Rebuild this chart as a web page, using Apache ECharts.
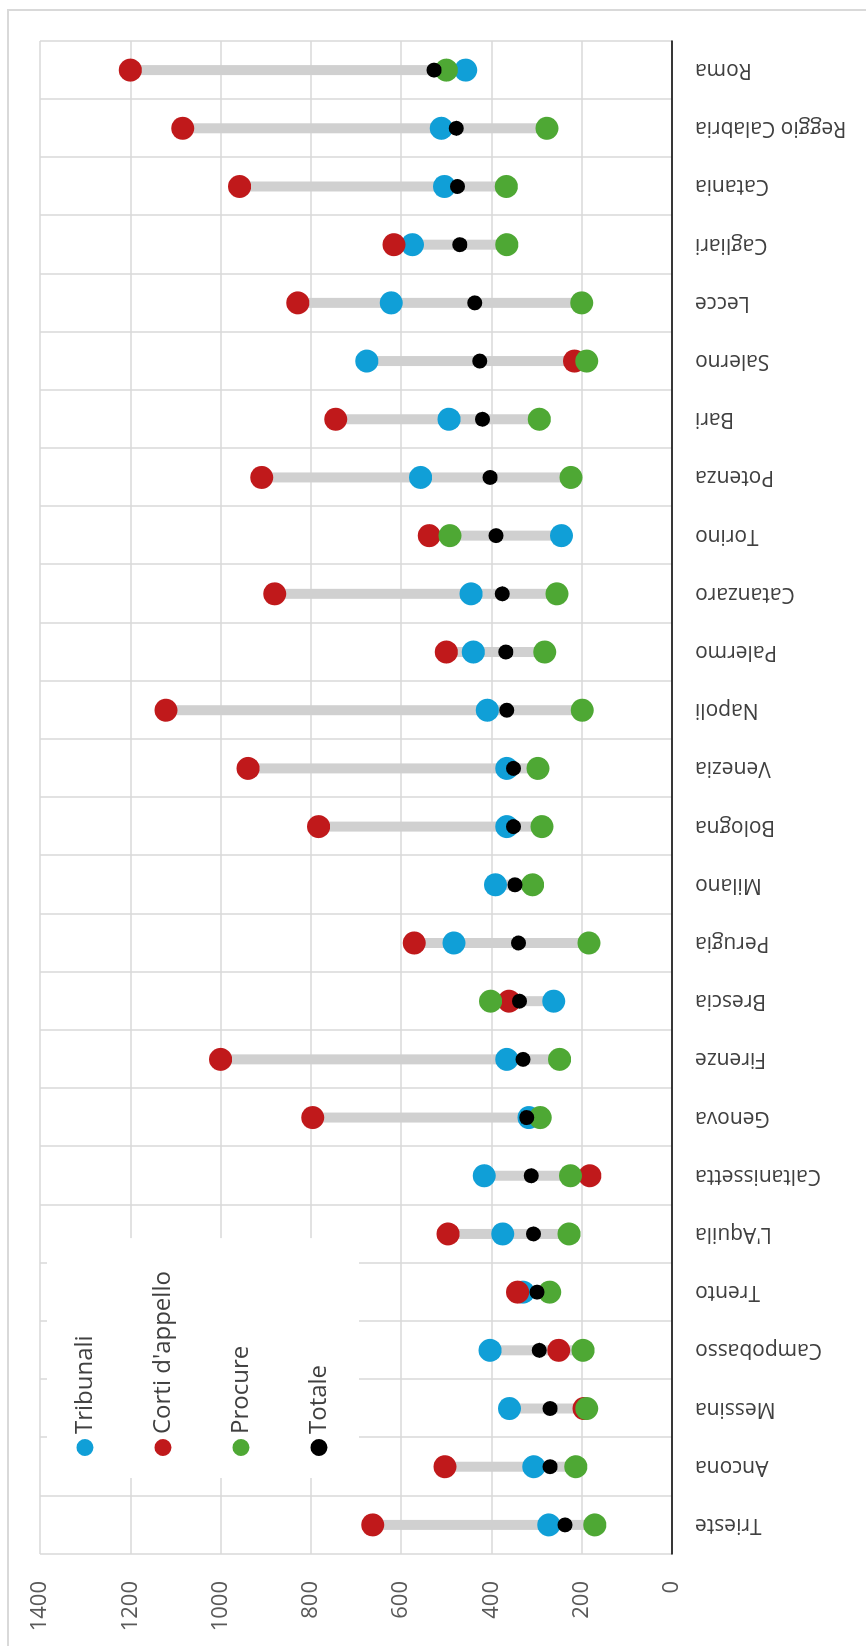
<!DOCTYPE html>
<html>
<head>
<meta charset="utf-8">
<script src="https://cdn.jsdelivr.net/npm/echarts@6/dist/echarts.min.js"></script>
<style>
  html, body { margin: 0; padding: 0; background: #fff; overflow: hidden; }
  #page { position: relative; width: 866px; height: 1646px; overflow: hidden; }
  /* the chart is drawn upright (1646 x 866) and turned a quarter turn left */
  #chart {
    position: absolute; left: 0; top: 0;
    width: 1646px; height: 866px;
    transform-origin: 0 0;
    transform: translate(0, 1646px) rotate(-90deg);
  }
</style>
</head>
<body>
<div id="page"><div id="chart"></div></div>
<script>
// distretti, ordinati per totale crescente
const categories = ['Trieste', 'Ancona', 'Messina', 'Campobasso', 'Trento', "L'Aquila", 'Caltanissetta',
  'Genova', 'Firenze', 'Brescia', 'Perugia', 'Milano', 'Bologna', 'Venezia', 'Napoli', 'Palermo',
  'Catanzaro', 'Torino', 'Potenza', 'Bari', 'Salerno', 'Lecce', 'Cagliari', 'Catania',
  'Reggio Calabria', 'Roma']

const tribunali = [273, 306, 360, 403, 330, 375, 416, 317, 366, 262, 483, 391, 366, 366, 409, 440,
  445, 245, 557, 494, 676, 622, 575, 504, 511, 457]
const corti = [663, 503, 195, 251, 342, 496, 182, 796, 1000, 361, 571, null, 783, 939, 1121, 500,
  880, 538, 909, 745, 216, 829, 616, 958, 1084, 1200]
const procure = [171, 213, 189, 197, 271, 228, 225, 292, 249, 402, 184, 309, 288, 297, 199, 282,
  255, 492, 224, 294, 189, 200, 366, 367, 277, 500]
const totale = [237, 270, 270, 294, 299, 307, 312, 322, 330, 338, 340, 348, 351, 351, 366, 368,
  376, 390, 403, 420, 426, 437, 470, 475, 478, 527]

const valueTicks = { min: 0, max: 1400, interval: 200 }

// barra grigia: dal minimo al massimo dei tre uffici
const rangeData = categories.map((c, i) => {
  const vals = [tribunali[i], corti[i], procure[i]].filter(v => v != null)
  return [i, Math.min(...vals), Math.max(...vals)]
})

const FONT = '"Open Sans", "Noto Sans", sans-serif'

const chart = echarts.init(document.getElementById('chart'))

const dot = (name, data, color, size) => ({
  name: name,
  type: 'scatter',
  data: data,
  symbol: 'circle',
  symbolSize: size,
  itemStyle: { color: color, opacity: 1 },
  emphasis: { disabled: true },
  z: 3
})

const option = {
  animation: false,
  textStyle: { fontFamily: FONT },
  graphic: [{
    type: 'rect',
    shape: { x: -10, y: 8, width: 1646, height: 900 },
    style: { fill: 'none', stroke: '#d9d9d9', lineWidth: 2 },
    silent: true
  }],
  grid: { left: 92, right: 41, top: 40, bottom: 194 },
  legend: {
    orient: 'vertical',
    left: 168,
    top: 47,
    padding: [26, 33, 28, 22],
    backgroundColor: '#ffffff',
    itemGap: 54,
    itemWidth: 17,
    itemHeight: 17,
    icon: 'circle',
    data: ['Tribunali', "Corti d'appello", 'Procure', 'Totale'],
    textStyle: { fontSize: 24, color: '#404040', fontFamily: FONT },
    z: 10
  },
  xAxis: {
    type: 'category',
    data: categories,
    axisLine: { lineStyle: { color: '#000000', width: 1.5 } },
    axisTick: { show: false },
    splitLine: { show: true, lineStyle: { color: '#d9d9d9', width: 1.5 } },
    axisLabel: { rotate: 90, fontSize: 21, margin: 23, color: '#404040', fontFamily: FONT, interval: 0 }
  },
  yAxis: {
    type: 'value',
    min: valueTicks.min,
    max: valueTicks.max,
    interval: valueTicks.interval,
    axisLine: { show: false },
    axisTick: { show: false },
    splitLine: { lineStyle: { color: '#d9d9d9', width: 1.5 } },
    axisLabel: {
      fontSize: 22, margin: 27, color: '#595959', fontFamily: FONT,
      formatter: v => String(v)
    }
  },
  series: [
    {
      name: 'range',
      type: 'custom',
      data: rangeData,
      z: 1,
      silent: true,
      encode: { x: 0, y: [1, 2] },
      renderItem: function (params, api) {
        const a = api.coord([api.value(0), api.value(1)])
        const b = api.coord([api.value(0), api.value(2)])
        return {
          type: 'line',
          shape: { x1: a[0], y1: a[1], x2: b[0], y2: b[1] },
          style: { stroke: '#d0d0d0', lineWidth: 10 }
        }
      }
    },
    dot('Tribunali', tribunali, '#109fd7', 23),
    dot("Corti d'appello", corti, '#c0191b', 23),
    dot('Procure', procure, '#4ea834', 23),
    dot('Totale', totale, '#000000', 15)
  ]
}

chart.setOption(option)
</script>
</body>
</html>
